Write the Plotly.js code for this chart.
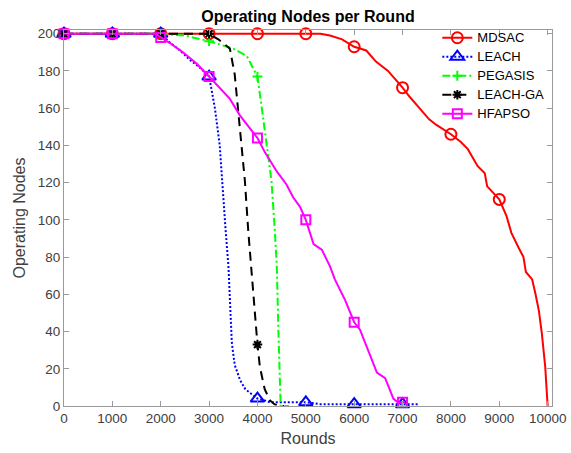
<!DOCTYPE html>
<html>
<head>
<meta charset="utf-8">
<script src="https://cdn.plot.ly/plotly-3.0.1.min.js"></script>
<style>
  html, body { margin: 0; padding: 0; background: #fff; }
  #chart { width: 571px; height: 453px; }
</style>
</head>
<body>
<div id="chart"></div>
<script>
// Operating (alive) nodes per round for each protocol
const mdsacRounds = [0, 1000, 2000, 3000, 4000, 5000, 5300, 5500, 5750, 6000, 6250, 6450, 6700, 7000, 7150, 7350, 7550, 7700, 8000, 8200, 8350, 8550, 8700, 8750, 9000, 9150, 9250, 9400, 9500, 9550, 9680, 9750, 9820, 9880, 9950, 10000];
const mdsacNodes  = [200, 200, 200, 200, 200, 200, 200, 199, 197, 193, 191, 185, 180, 171, 166, 160, 154, 151, 146, 142, 138, 129, 125, 118, 111, 102, 93, 85, 80, 72, 68, 60, 51, 39, 21, 0];

const leachRounds = [0, 1000, 1900, 2000, 2200, 2400, 2600, 2800, 3000, 3120, 3220, 3290, 3340, 3400, 3430, 3470, 3530, 3640, 3750, 3850, 4000, 4150, 4260, 4500, 5000, 5300, 6000, 6500, 7000, 7350];
const leachNodes  = [200, 200, 200, 200, 195, 191, 186, 182, 177, 160, 140, 112, 95, 75, 60, 34, 22, 14, 9, 7, 4, 3, 2, 2, 2, 1, 1, 1, 1, 1];

const pegasisRounds = [0, 1000, 2000, 2500, 3000, 3250, 3500, 3780, 3900, 4000, 4090, 4190, 4230, 4290, 4360, 4400, 4430, 4460, 4480, 4650];
const pegasisNodes  = [200, 200, 200, 199, 196, 194, 192, 188, 182, 177, 160, 140, 130, 121, 94, 75, 43, 10, 0, 0];

const leachGaRounds = [0, 1000, 2000, 3000, 3190, 3430, 3530, 3600, 3650, 3740, 3810, 3865, 3950, 4000, 4050, 4150, 4260, 4350, 4470, 4550];
const leachGaNodes  = [200, 200, 200, 200, 197, 192, 178, 160, 145, 121, 94, 76, 52, 33, 21, 9, 3, 1, 0, 0];

const hfapsoRounds = [0, 1000, 1900, 2000, 2190, 2460, 2740, 3000, 3220, 3430, 3640, 3850, 4000, 4160, 4400, 4600, 4740, 4880, 5000, 5160, 5330, 5500, 5600, 5810, 6000, 6120, 6230, 6330, 6470, 6640, 6740, 6810, 6900, 7000, 7050];
const hfapsoNodes  = [200, 200, 200, 198, 195, 190, 184, 177, 171, 165, 156, 149, 144, 136, 126, 119, 112, 107, 100, 87, 84, 75, 68, 57, 45, 41, 34, 27, 18, 15, 9, 4, 2, 2, 2];

const seriesNames = ['MDSAC', 'LEACH', 'PEGASIS', 'LEACH-GA', 'HFAPSO'];

const FONT = 'Liberation Sans, Arial, Helvetica, sans-serif';
const MARK_EVERY = 1000;

// Markers sit on every 1000th round (not on the final sample); other samples get an invisible marker.
function markerColors(xs, color) {
  const last = xs[xs.length - 1];
  return xs.map(x => (x % MARK_EVERY === 0 && x < last) ? color : 'rgba(0,0,0,0)');
}

function series(name, xs, ys, color, dash, symbol, size) {
  return {
    type: 'scatter',
    mode: 'lines+markers',
    // legend rows are kept compact by a small legend font; the label itself is drawn at 13px
    name: '<span style="font-size:13px">' + name + '</span>',
    x: xs,
    y: ys,
    line: { color: color, width: 2, dash: dash },
    marker: {
      symbol: symbol,
      size: size,
      color: markerColors(xs, color),
      line: { width: 2 }
    },
    cliponaxis: false
  };
}

const traces = [
  series(seriesNames[0], mdsacRounds, mdsacNodes, '#ff0000', 'solid', 'circle-open', 11),
  series(seriesNames[1], leachRounds, leachNodes, '#0000ff', '2px,2px', 'triangle-up-open', 12),
  series(seriesNames[2], pegasisRounds, pegasisNodes, '#00ff00', '8px,3px,2px,3px', 'cross-thin-open', 7),
  series(seriesNames[3], leachGaRounds, leachGaNodes, '#000000', '9px,6px', 'asterisk-open', 8),
  series(seriesNames[4], hfapsoRounds, hfapsoNodes, '#ff00ff', 'solid', 'square-open', 9)
];

const axisCommon = {
  showline: true,
  linecolor: '#9a9a9a',
  linewidth: 1,
  mirror: 'allticks',
  ticks: 'inside',
  ticklen: 5,
  tickwidth: 1,
  tickcolor: '#9a9a9a',
  showgrid: false,
  zeroline: false,
  tickformat: 'd',
  tickfont: { family: FONT, size: 13.5, color: '#404040' }
};

const layout = {
  width: 571,
  height: 453,
  margin: { l: 64, r: 19, t: 30, b: 47 },
  paper_bgcolor: '#ffffff',
  plot_bgcolor: '#ffffff',
  font: { family: FONT },
  title: {
    text: '<b>Operating Nodes per Round</b>',
    font: { family: FONT, size: 16, color: '#000000' },
    x: 0.5, xref: 'paper', xanchor: 'center',
    y: 1 - 16 / 453, yref: 'container', yanchor: 'middle'
  },
  xaxis: Object.assign({}, axisCommon, {
    range: [0, 10090],
    tick0: 0,
    dtick: 1000,
    title: { text: 'Rounds', font: { family: FONT, size: 16, color: '#404040' }, standoff: 7 }
  }),
  yaxis: Object.assign({}, axisCommon, {
    range: [0, 202],
    tick0: 0,
    dtick: 20,
    title: { text: 'Operating Nodes', font: { family: FONT, size: 16, color: '#404040' }, standoff: 8 }
  }),
  legend: {
    x: 0.765, xanchor: 'left',
    y: 1.018, yanchor: 'top',
    bgcolor: 'rgba(255,255,255,0)',
    borderwidth: 0,
    font: { family: FONT, size: 11, color: '#000000' },
    tracegroupgap: 0
  },
  showlegend: true
};

Plotly.newPlot('chart', traces, layout, { displayModeBar: false, staticPlot: true });
</script>
</body>
</html>
